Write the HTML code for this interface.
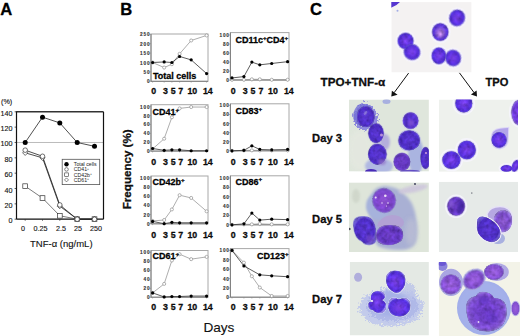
<!DOCTYPE html>
<html><head><meta charset="utf-8"><style>
html,body{margin:0;padding:0;background:#fff;}
svg{display:block;}
text[font-weight="bold"]:not([stroke]){stroke:#000;stroke-width:0.28px;stroke-linejoin:round;}
text.n{stroke:#111;stroke-width:0.12px;}
</style></head><body>
<svg width="520" height="336" viewBox="0 0 520 336" xmlns="http://www.w3.org/2000/svg" font-family='"Liberation Sans", sans-serif'>
<rect width="520" height="336" fill="#fff"/>
<text x="0.3" y="14.8" font-size="16.6" font-weight="bold" fill="#000">A</text>
<text x="120.3" y="14.8" font-size="16.6" font-weight="bold" fill="#000">B</text>
<text x="309.9" y="14.8" font-size="16.6" font-weight="bold" fill="#000">C</text>
<text class="n" x="1" y="104.3" font-size="7.2" fill="#111">(%)</text>
<text class="n" x="12.6" y="223.20" font-size="7.2" text-anchor="end" fill="#111">0</text>
<line x1="14.6" y1="219.20" x2="16.5" y2="219.20" stroke="#333" stroke-width="0.8"/>
<text class="n" x="12.6" y="207.86" font-size="7.2" text-anchor="end" fill="#111">20</text>
<line x1="14.6" y1="203.86" x2="16.5" y2="203.86" stroke="#333" stroke-width="0.8"/>
<text class="n" x="12.6" y="192.51" font-size="7.2" text-anchor="end" fill="#111">40</text>
<line x1="14.6" y1="188.51" x2="16.5" y2="188.51" stroke="#333" stroke-width="0.8"/>
<text class="n" x="12.6" y="177.17" font-size="7.2" text-anchor="end" fill="#111">60</text>
<line x1="14.6" y1="173.17" x2="16.5" y2="173.17" stroke="#333" stroke-width="0.8"/>
<text class="n" x="12.6" y="161.83" font-size="7.2" text-anchor="end" fill="#111">80</text>
<line x1="14.6" y1="157.83" x2="16.5" y2="157.83" stroke="#333" stroke-width="0.8"/>
<text class="n" x="12.6" y="146.49" font-size="7.2" text-anchor="end" fill="#111">100</text>
<line x1="14.6" y1="142.49" x2="16.5" y2="142.49" stroke="#333" stroke-width="0.8"/>
<text class="n" x="12.6" y="131.14" font-size="7.2" text-anchor="end" fill="#111">120</text>
<line x1="14.6" y1="127.14" x2="16.5" y2="127.14" stroke="#333" stroke-width="0.8"/>
<text class="n" x="12.6" y="115.80" font-size="7.2" text-anchor="end" fill="#111">140</text>
<line x1="14.6" y1="111.80" x2="16.5" y2="111.80" stroke="#333" stroke-width="0.8"/>
<line x1="16.5" y1="142.49" x2="103.5" y2="142.49" stroke="#aaa" stroke-width="0.8"/>
<line x1="16.5" y1="111.8" x2="103.5" y2="111.8" stroke="#333" stroke-width="1.6"/>
<line x1="103.5" y1="111.8" x2="103.5" y2="219.2" stroke="#111" stroke-width="1.2"/>
<line x1="16.5" y1="111.3" x2="16.5" y2="219.2" stroke="#111" stroke-width="1.2"/>
<line x1="16.5" y1="219.2" x2="103.5" y2="219.2" stroke="#111" stroke-width="1.3"/>
<line x1="25.2" y1="219.2" x2="25.2" y2="220.7" stroke="#333" stroke-width="0.8"/>
<line x1="42.5" y1="219.2" x2="42.5" y2="220.7" stroke="#333" stroke-width="0.8"/>
<line x1="59.8" y1="219.2" x2="59.8" y2="220.7" stroke="#333" stroke-width="0.8"/>
<line x1="77.2" y1="219.2" x2="77.2" y2="220.7" stroke="#333" stroke-width="0.8"/>
<line x1="94.5" y1="219.2" x2="94.5" y2="220.7" stroke="#333" stroke-width="0.8"/>
<text class="n" x="23.1" y="230.6" font-size="7.2" text-anchor="middle" fill="#111">0</text>
<text class="n" x="40.6" y="230.6" font-size="7.2" text-anchor="middle" fill="#111">0.25</text>
<text class="n" x="61" y="230.6" font-size="7.2" text-anchor="middle" fill="#111">2.5</text>
<text class="n" x="78" y="230.6" font-size="7.2" text-anchor="middle" fill="#111">25</text>
<text class="n" x="96.1" y="230.6" font-size="7.2" text-anchor="middle" fill="#111">250</text>
<text class="n" x="61.3" y="247.3" font-size="9.5" text-anchor="middle" fill="#111">TNF-α (ng/mL)</text>
<polyline points="25.2,186.21 42.5,198.10 59.8,215.75 77.2,219.20 94.5,219.20" fill="none" stroke="#444" stroke-width="0.7"/>
<polyline points="25.2,152.84 42.5,157.83 59.8,206.16 77.2,219.20 94.5,219.20" fill="none" stroke="#222" stroke-width="0.8"/>
<polyline points="25.2,150.16 42.5,156.29 59.8,204.93 77.2,219.20 94.5,219.20" fill="none" stroke="#222" stroke-width="0.8"/>
<polyline points="25.2,142.49 42.5,117.17 59.8,122.92 77.2,142.49 94.5,146.32" fill="none" stroke="#222" stroke-width="0.8"/>
<rect x="22.8" y="183.81" width="4.8" height="4.8" fill="#fff" stroke="#333" stroke-width="0.7"/>
<rect x="40.1" y="195.70" width="4.8" height="4.8" fill="#fff" stroke="#333" stroke-width="0.7"/>
<rect x="57.4" y="213.35" width="4.8" height="4.8" fill="#fff" stroke="#333" stroke-width="0.7"/>
<rect x="74.8" y="216.80" width="4.8" height="4.8" fill="#fff" stroke="#333" stroke-width="0.7"/>
<rect x="92.1" y="216.80" width="4.8" height="4.8" fill="#fff" stroke="#333" stroke-width="0.7"/>
<path d="M25.2,150.24 L27.8,152.84 L25.2,155.44 L22.599999999999998,152.84Z" fill="#fff" stroke="#333" stroke-width="0.7"/>
<path d="M42.5,155.23 L45.1,157.83 L42.5,160.43 L39.9,157.83Z" fill="#fff" stroke="#333" stroke-width="0.7"/>
<path d="M59.8,203.56 L62.4,206.16 L59.8,208.76 L57.199999999999996,206.16Z" fill="#fff" stroke="#333" stroke-width="0.7"/>
<path d="M77.2,216.60 L79.8,219.20 L77.2,221.80 L74.60000000000001,219.20Z" fill="#fff" stroke="#333" stroke-width="0.7"/>
<path d="M94.5,216.60 L97.1,219.20 L94.5,221.80 L91.9,219.20Z" fill="#fff" stroke="#333" stroke-width="0.7"/>
<circle cx="25.2" cy="150.16" r="2.3" fill="#fff" stroke="#333" stroke-width="0.7"/>
<circle cx="42.5" cy="156.29" r="2.3" fill="#fff" stroke="#333" stroke-width="0.7"/>
<circle cx="59.8" cy="204.93" r="2.3" fill="#fff" stroke="#333" stroke-width="0.7"/>
<circle cx="77.2" cy="219.20" r="2.3" fill="#fff" stroke="#333" stroke-width="0.7"/>
<circle cx="94.5" cy="219.20" r="2.3" fill="#fff" stroke="#333" stroke-width="0.7"/>
<circle cx="25.2" cy="142.49" r="2.5" fill="#000"/>
<circle cx="42.5" cy="117.17" r="2.5" fill="#000"/>
<circle cx="59.8" cy="122.92" r="2.5" fill="#000"/>
<circle cx="77.2" cy="142.49" r="2.5" fill="#000"/>
<circle cx="94.5" cy="146.32" r="2.5" fill="#000"/>
<rect x="62.2" y="159.3" width="37.5" height="25.3" fill="#fff" stroke="#555" stroke-width="0.8"/>
<circle cx="66.5" cy="164.2" r="2.2" fill="#000"/>
<circle cx="66.5" cy="169.4" r="1.8" fill="#fff" stroke="#333" stroke-width="0.6"/>
<rect x="64.7" y="172.89999999999998" width="3.6" height="3.6" fill="#fff" stroke="#333" stroke-width="0.6"/>
<path d="M66.5,177.9 l2,2 l-2,2 l-2,-2z" fill="#fff" stroke="#333" stroke-width="0.6"/>
<text x="73.8" y="166.0" font-size="5.2" fill="#222">Total cells</text>
<text x="73.8" y="171.20000000000002" font-size="5.2" fill="#222">CD41<tspan font-size="3.4" dy="-1.6">+</tspan></text>
<text x="73.8" y="176.5" font-size="5.2" fill="#222">CD42b<tspan font-size="3.4" dy="-1.6">+</tspan></text>
<text x="73.8" y="181.70000000000002" font-size="5.2" fill="#222">CD61<tspan font-size="3.4" dy="-1.6">+</tspan></text>
<text x="150.4" y="83.30" font-size="4.7" letter-spacing="0.85" text-anchor="end" fill="#333" stroke="#333" stroke-width="0.12" font-weight="bold">0</text>
<line x1="149.4" y1="81.30" x2="151.0" y2="81.30" stroke="#777" stroke-width="0.6"/>
<text x="150.4" y="73.90" font-size="4.7" letter-spacing="0.85" text-anchor="end" fill="#333" stroke="#333" stroke-width="0.12" font-weight="bold">50</text>
<line x1="149.4" y1="71.90" x2="151.0" y2="71.90" stroke="#777" stroke-width="0.6"/>
<text x="150.4" y="64.50" font-size="4.7" letter-spacing="0.85" text-anchor="end" fill="#333" stroke="#333" stroke-width="0.12" font-weight="bold">100</text>
<line x1="149.4" y1="62.50" x2="151.0" y2="62.50" stroke="#777" stroke-width="0.6"/>
<text x="150.4" y="55.10" font-size="4.7" letter-spacing="0.85" text-anchor="end" fill="#333" stroke="#333" stroke-width="0.12" font-weight="bold">150</text>
<line x1="149.4" y1="53.10" x2="151.0" y2="53.10" stroke="#777" stroke-width="0.6"/>
<text x="150.4" y="45.70" font-size="4.7" letter-spacing="0.85" text-anchor="end" fill="#333" stroke="#333" stroke-width="0.12" font-weight="bold">200</text>
<line x1="149.4" y1="43.70" x2="151.0" y2="43.70" stroke="#777" stroke-width="0.6"/>
<text x="150.4" y="36.30" font-size="4.7" letter-spacing="0.85" text-anchor="end" fill="#333" stroke="#333" stroke-width="0.12" font-weight="bold">250</text>
<line x1="149.4" y1="34.30" x2="151.0" y2="34.30" stroke="#777" stroke-width="0.6"/>
<line x1="152.60" y1="81.3" x2="152.60" y2="82.6" stroke="#888" stroke-width="0.6"/>
<line x1="164.17" y1="81.3" x2="164.17" y2="82.6" stroke="#888" stroke-width="0.6"/>
<line x1="171.89" y1="81.3" x2="171.89" y2="82.6" stroke="#888" stroke-width="0.6"/>
<line x1="179.60" y1="81.3" x2="179.60" y2="82.6" stroke="#888" stroke-width="0.6"/>
<line x1="191.17" y1="81.3" x2="191.17" y2="82.6" stroke="#888" stroke-width="0.6"/>
<line x1="206.60" y1="81.3" x2="206.60" y2="82.6" stroke="#888" stroke-width="0.6"/>
<rect x="151.0" y="34.0" width="57.0" height="47.3" fill="none" stroke="#a8a8a8" stroke-width="1.0"/>
<line x1="151.0" y1="34.0" x2="151.0" y2="81.3" stroke="#707070" stroke-width="0.8"/>
<line x1="151.0" y1="81.3" x2="208.0" y2="81.3" stroke="#707070" stroke-width="0.8"/>
<polyline points="152.60,62.50 164.17,67.58 171.89,64.19 179.60,53.85 191.17,40.50 206.60,35.43" fill="none" stroke="#999" stroke-width="0.8"/>
<polyline points="152.60,62.50 164.17,61.94 171.89,62.50 179.60,56.48 191.17,59.87 206.60,73.59" fill="none" stroke="#333" stroke-width="0.8"/>
<circle cx="152.60" cy="62.50" r="1.55" fill="#fff" stroke="#8a8a8a" stroke-width="0.65"/>
<circle cx="164.17" cy="67.58" r="1.55" fill="#fff" stroke="#8a8a8a" stroke-width="0.65"/>
<circle cx="171.89" cy="64.19" r="1.55" fill="#fff" stroke="#8a8a8a" stroke-width="0.65"/>
<circle cx="179.60" cy="53.85" r="1.55" fill="#fff" stroke="#8a8a8a" stroke-width="0.65"/>
<circle cx="191.17" cy="40.50" r="1.55" fill="#fff" stroke="#8a8a8a" stroke-width="0.65"/>
<circle cx="206.60" cy="35.43" r="1.55" fill="#fff" stroke="#8a8a8a" stroke-width="0.65"/>
<circle cx="152.60" cy="62.50" r="1.6" fill="#000"/>
<circle cx="164.17" cy="61.94" r="1.6" fill="#000"/>
<circle cx="171.89" cy="62.50" r="1.6" fill="#000"/>
<circle cx="179.60" cy="56.48" r="1.6" fill="#000"/>
<circle cx="191.17" cy="59.87" r="1.6" fill="#000"/>
<circle cx="206.60" cy="73.59" r="1.6" fill="#000"/>
<text x="153.0" y="78.8" font-size="9" font-weight="bold" fill="#000">Total cells</text>
<text x="153.80" y="94.10000000000001" font-size="8.8" font-weight="bold" text-anchor="middle" fill="#111">0</text>
<text x="165.37" y="94.10000000000001" font-size="8.8" font-weight="bold" text-anchor="middle" fill="#111">3</text>
<text x="173.09" y="94.10000000000001" font-size="8.8" font-weight="bold" text-anchor="middle" fill="#111">5</text>
<text x="180.80" y="94.10000000000001" font-size="8.8" font-weight="bold" text-anchor="middle" fill="#111">7</text>
<text x="192.37" y="94.10000000000001" font-size="8.8" font-weight="bold" text-anchor="middle" fill="#111">10</text>
<text x="207.80" y="94.10000000000001" font-size="8.8" font-weight="bold" text-anchor="middle" fill="#111">14</text>
<text x="229.8" y="82.20" font-size="4.7" letter-spacing="0.85" text-anchor="end" fill="#333" stroke="#333" stroke-width="0.12" font-weight="bold">0</text>
<line x1="228.8" y1="80.20" x2="230.4" y2="80.20" stroke="#777" stroke-width="0.6"/>
<text x="229.8" y="73.16" font-size="4.7" letter-spacing="0.85" text-anchor="end" fill="#333" stroke="#333" stroke-width="0.12" font-weight="bold">20</text>
<line x1="228.8" y1="71.16" x2="230.4" y2="71.16" stroke="#777" stroke-width="0.6"/>
<text x="229.8" y="64.12" font-size="4.7" letter-spacing="0.85" text-anchor="end" fill="#333" stroke="#333" stroke-width="0.12" font-weight="bold">40</text>
<line x1="228.8" y1="62.12" x2="230.4" y2="62.12" stroke="#777" stroke-width="0.6"/>
<text x="229.8" y="55.08" font-size="4.7" letter-spacing="0.85" text-anchor="end" fill="#333" stroke="#333" stroke-width="0.12" font-weight="bold">60</text>
<line x1="228.8" y1="53.08" x2="230.4" y2="53.08" stroke="#777" stroke-width="0.6"/>
<text x="229.8" y="46.04" font-size="4.7" letter-spacing="0.85" text-anchor="end" fill="#333" stroke="#333" stroke-width="0.12" font-weight="bold">80</text>
<line x1="228.8" y1="44.04" x2="230.4" y2="44.04" stroke="#777" stroke-width="0.6"/>
<text x="229.8" y="37.00" font-size="4.7" letter-spacing="0.85" text-anchor="end" fill="#333" stroke="#333" stroke-width="0.12" font-weight="bold">100</text>
<line x1="228.8" y1="35.00" x2="230.4" y2="35.00" stroke="#777" stroke-width="0.6"/>
<line x1="232.00" y1="80.0" x2="232.00" y2="81.3" stroke="#888" stroke-width="0.6"/>
<line x1="243.91" y1="80.0" x2="243.91" y2="81.3" stroke="#888" stroke-width="0.6"/>
<line x1="251.86" y1="80.0" x2="251.86" y2="81.3" stroke="#888" stroke-width="0.6"/>
<line x1="259.80" y1="80.0" x2="259.80" y2="81.3" stroke="#888" stroke-width="0.6"/>
<line x1="271.71" y1="80.0" x2="271.71" y2="81.3" stroke="#888" stroke-width="0.6"/>
<line x1="287.60" y1="80.0" x2="287.60" y2="81.3" stroke="#888" stroke-width="0.6"/>
<rect x="230.4" y="32.6" width="58.599999999999994" height="47.4" fill="none" stroke="#a8a8a8" stroke-width="1.0"/>
<line x1="230.4" y1="32.6" x2="230.4" y2="80.0" stroke="#707070" stroke-width="0.8"/>
<line x1="230.4" y1="80.0" x2="289.0" y2="80.0" stroke="#707070" stroke-width="0.8"/>
<polyline points="232.00,79.75 243.91,79.75 251.86,79.30 259.80,79.30 271.71,79.75 287.60,79.75" fill="none" stroke="#999" stroke-width="0.8"/>
<polyline points="232.00,77.94 243.91,76.58 251.86,62.12 259.80,64.83 271.71,63.48 287.60,61.67" fill="none" stroke="#333" stroke-width="0.8"/>
<circle cx="232.00" cy="79.75" r="1.55" fill="#fff" stroke="#8a8a8a" stroke-width="0.65"/>
<circle cx="243.91" cy="79.75" r="1.55" fill="#fff" stroke="#8a8a8a" stroke-width="0.65"/>
<circle cx="251.86" cy="79.30" r="1.55" fill="#fff" stroke="#8a8a8a" stroke-width="0.65"/>
<circle cx="259.80" cy="79.30" r="1.55" fill="#fff" stroke="#8a8a8a" stroke-width="0.65"/>
<circle cx="271.71" cy="79.75" r="1.55" fill="#fff" stroke="#8a8a8a" stroke-width="0.65"/>
<circle cx="287.60" cy="79.75" r="1.55" fill="#fff" stroke="#8a8a8a" stroke-width="0.65"/>
<circle cx="232.00" cy="77.94" r="1.6" fill="#000"/>
<circle cx="243.91" cy="76.58" r="1.6" fill="#000"/>
<circle cx="251.86" cy="62.12" r="1.6" fill="#000"/>
<circle cx="259.80" cy="64.83" r="1.6" fill="#000"/>
<circle cx="271.71" cy="63.48" r="1.6" fill="#000"/>
<circle cx="287.60" cy="61.67" r="1.6" fill="#000"/>
<text x="235.4" y="42.8" font-size="9" font-weight="bold" fill="#000">CD11c<tspan font-size="6.2" dy="-3.2">+</tspan><tspan dy="3.2">CD4</tspan><tspan font-size="6.2" dy="-3.2">+</tspan></text>
<text x="233.20" y="94.10000000000001" font-size="8.8" font-weight="bold" text-anchor="middle" fill="#111">0</text>
<text x="245.11" y="94.10000000000001" font-size="8.8" font-weight="bold" text-anchor="middle" fill="#111">3</text>
<text x="253.06" y="94.10000000000001" font-size="8.8" font-weight="bold" text-anchor="middle" fill="#111">5</text>
<text x="261.00" y="94.10000000000001" font-size="8.8" font-weight="bold" text-anchor="middle" fill="#111">7</text>
<text x="272.91" y="94.10000000000001" font-size="8.8" font-weight="bold" text-anchor="middle" fill="#111">10</text>
<text x="288.80" y="94.10000000000001" font-size="8.8" font-weight="bold" text-anchor="middle" fill="#111">14</text>
<text x="150.4" y="153.20" font-size="4.7" letter-spacing="0.85" text-anchor="end" fill="#333" stroke="#333" stroke-width="0.12" font-weight="bold">0</text>
<line x1="149.4" y1="151.20" x2="151.0" y2="151.20" stroke="#777" stroke-width="0.6"/>
<text x="150.4" y="144.28" font-size="4.7" letter-spacing="0.85" text-anchor="end" fill="#333" stroke="#333" stroke-width="0.12" font-weight="bold">20</text>
<line x1="149.4" y1="142.28" x2="151.0" y2="142.28" stroke="#777" stroke-width="0.6"/>
<text x="150.4" y="135.36" font-size="4.7" letter-spacing="0.85" text-anchor="end" fill="#333" stroke="#333" stroke-width="0.12" font-weight="bold">40</text>
<line x1="149.4" y1="133.36" x2="151.0" y2="133.36" stroke="#777" stroke-width="0.6"/>
<text x="150.4" y="126.44" font-size="4.7" letter-spacing="0.85" text-anchor="end" fill="#333" stroke="#333" stroke-width="0.12" font-weight="bold">60</text>
<line x1="149.4" y1="124.44" x2="151.0" y2="124.44" stroke="#777" stroke-width="0.6"/>
<text x="150.4" y="117.52" font-size="4.7" letter-spacing="0.85" text-anchor="end" fill="#333" stroke="#333" stroke-width="0.12" font-weight="bold">80</text>
<line x1="149.4" y1="115.52" x2="151.0" y2="115.52" stroke="#777" stroke-width="0.6"/>
<text x="150.4" y="108.60" font-size="4.7" letter-spacing="0.85" text-anchor="end" fill="#333" stroke="#333" stroke-width="0.12" font-weight="bold">100</text>
<line x1="149.4" y1="106.60" x2="151.0" y2="106.60" stroke="#777" stroke-width="0.6"/>
<line x1="152.60" y1="151.1" x2="152.60" y2="152.4" stroke="#888" stroke-width="0.6"/>
<line x1="164.17" y1="151.1" x2="164.17" y2="152.4" stroke="#888" stroke-width="0.6"/>
<line x1="171.89" y1="151.1" x2="171.89" y2="152.4" stroke="#888" stroke-width="0.6"/>
<line x1="179.60" y1="151.1" x2="179.60" y2="152.4" stroke="#888" stroke-width="0.6"/>
<line x1="191.17" y1="151.1" x2="191.17" y2="152.4" stroke="#888" stroke-width="0.6"/>
<line x1="206.60" y1="151.1" x2="206.60" y2="152.4" stroke="#888" stroke-width="0.6"/>
<rect x="151.0" y="104.7" width="57.0" height="46.39999999999999" fill="none" stroke="#a8a8a8" stroke-width="1.0"/>
<line x1="151.0" y1="104.7" x2="151.0" y2="151.1" stroke="#707070" stroke-width="0.8"/>
<line x1="151.0" y1="151.1" x2="208.0" y2="151.1" stroke="#707070" stroke-width="0.8"/>
<polyline points="152.60,148.97 164.17,138.71 171.89,117.30 179.60,108.38 191.17,107.05 206.60,107.05" fill="none" stroke="#999" stroke-width="0.8"/>
<polyline points="152.60,148.52 164.17,150.31 171.89,149.86 179.60,149.86 191.17,150.75 206.60,150.75" fill="none" stroke="#333" stroke-width="0.8"/>
<circle cx="152.60" cy="148.97" r="1.55" fill="#fff" stroke="#8a8a8a" stroke-width="0.65"/>
<circle cx="164.17" cy="138.71" r="1.55" fill="#fff" stroke="#8a8a8a" stroke-width="0.65"/>
<circle cx="171.89" cy="117.30" r="1.55" fill="#fff" stroke="#8a8a8a" stroke-width="0.65"/>
<circle cx="179.60" cy="108.38" r="1.55" fill="#fff" stroke="#8a8a8a" stroke-width="0.65"/>
<circle cx="191.17" cy="107.05" r="1.55" fill="#fff" stroke="#8a8a8a" stroke-width="0.65"/>
<circle cx="206.60" cy="107.05" r="1.55" fill="#fff" stroke="#8a8a8a" stroke-width="0.65"/>
<circle cx="152.60" cy="148.52" r="1.6" fill="#000"/>
<circle cx="164.17" cy="150.31" r="1.6" fill="#000"/>
<circle cx="171.89" cy="149.86" r="1.6" fill="#000"/>
<circle cx="179.60" cy="149.86" r="1.6" fill="#000"/>
<circle cx="191.17" cy="150.75" r="1.6" fill="#000"/>
<circle cx="206.60" cy="150.75" r="1.6" fill="#000"/>
<text x="152.6" y="115.0" font-size="9" font-weight="bold" fill="#000">CD41<tspan font-size="6.2" dy="-3.2">+</tspan></text>
<text x="153.80" y="164.5" font-size="8.8" font-weight="bold" text-anchor="middle" fill="#111">0</text>
<text x="165.37" y="164.5" font-size="8.8" font-weight="bold" text-anchor="middle" fill="#111">3</text>
<text x="173.09" y="164.5" font-size="8.8" font-weight="bold" text-anchor="middle" fill="#111">5</text>
<text x="180.80" y="164.5" font-size="8.8" font-weight="bold" text-anchor="middle" fill="#111">7</text>
<text x="192.37" y="164.5" font-size="8.8" font-weight="bold" text-anchor="middle" fill="#111">10</text>
<text x="207.80" y="164.5" font-size="8.8" font-weight="bold" text-anchor="middle" fill="#111">14</text>
<text x="229.8" y="152.80" font-size="4.7" letter-spacing="0.85" text-anchor="end" fill="#333" stroke="#333" stroke-width="0.12" font-weight="bold">0</text>
<line x1="228.8" y1="150.80" x2="230.4" y2="150.80" stroke="#777" stroke-width="0.6"/>
<text x="229.8" y="143.72" font-size="4.7" letter-spacing="0.85" text-anchor="end" fill="#333" stroke="#333" stroke-width="0.12" font-weight="bold">20</text>
<line x1="228.8" y1="141.72" x2="230.4" y2="141.72" stroke="#777" stroke-width="0.6"/>
<text x="229.8" y="134.64" font-size="4.7" letter-spacing="0.85" text-anchor="end" fill="#333" stroke="#333" stroke-width="0.12" font-weight="bold">40</text>
<line x1="228.8" y1="132.64" x2="230.4" y2="132.64" stroke="#777" stroke-width="0.6"/>
<text x="229.8" y="125.56" font-size="4.7" letter-spacing="0.85" text-anchor="end" fill="#333" stroke="#333" stroke-width="0.12" font-weight="bold">60</text>
<line x1="228.8" y1="123.56" x2="230.4" y2="123.56" stroke="#777" stroke-width="0.6"/>
<text x="229.8" y="116.48" font-size="4.7" letter-spacing="0.85" text-anchor="end" fill="#333" stroke="#333" stroke-width="0.12" font-weight="bold">80</text>
<line x1="228.8" y1="114.48" x2="230.4" y2="114.48" stroke="#777" stroke-width="0.6"/>
<text x="229.8" y="107.40" font-size="4.7" letter-spacing="0.85" text-anchor="end" fill="#333" stroke="#333" stroke-width="0.12" font-weight="bold">100</text>
<line x1="228.8" y1="105.40" x2="230.4" y2="105.40" stroke="#777" stroke-width="0.6"/>
<line x1="232.00" y1="150.8" x2="232.00" y2="152.10000000000002" stroke="#888" stroke-width="0.6"/>
<line x1="243.91" y1="150.8" x2="243.91" y2="152.10000000000002" stroke="#888" stroke-width="0.6"/>
<line x1="251.86" y1="150.8" x2="251.86" y2="152.10000000000002" stroke="#888" stroke-width="0.6"/>
<line x1="259.80" y1="150.8" x2="259.80" y2="152.10000000000002" stroke="#888" stroke-width="0.6"/>
<line x1="271.71" y1="150.8" x2="271.71" y2="152.10000000000002" stroke="#888" stroke-width="0.6"/>
<line x1="287.60" y1="150.8" x2="287.60" y2="152.10000000000002" stroke="#888" stroke-width="0.6"/>
<rect x="230.4" y="103.8" width="58.599999999999994" height="47.000000000000014" fill="none" stroke="#a8a8a8" stroke-width="1.0"/>
<line x1="230.4" y1="103.8" x2="230.4" y2="150.8" stroke="#707070" stroke-width="0.8"/>
<line x1="230.4" y1="150.8" x2="289.0" y2="150.8" stroke="#707070" stroke-width="0.8"/>
<polyline points="232.00,150.80 243.91,150.35 251.86,150.35 259.80,150.35 271.71,150.35 287.60,150.35" fill="none" stroke="#999" stroke-width="0.8"/>
<polyline points="232.00,150.80 243.91,150.35 251.86,145.81 259.80,149.44 271.71,149.89 287.60,149.44" fill="none" stroke="#333" stroke-width="0.8"/>
<circle cx="232.00" cy="150.80" r="1.55" fill="#fff" stroke="#8a8a8a" stroke-width="0.65"/>
<circle cx="243.91" cy="150.35" r="1.55" fill="#fff" stroke="#8a8a8a" stroke-width="0.65"/>
<circle cx="251.86" cy="150.35" r="1.55" fill="#fff" stroke="#8a8a8a" stroke-width="0.65"/>
<circle cx="259.80" cy="150.35" r="1.55" fill="#fff" stroke="#8a8a8a" stroke-width="0.65"/>
<circle cx="271.71" cy="150.35" r="1.55" fill="#fff" stroke="#8a8a8a" stroke-width="0.65"/>
<circle cx="287.60" cy="150.35" r="1.55" fill="#fff" stroke="#8a8a8a" stroke-width="0.65"/>
<circle cx="232.00" cy="150.80" r="1.6" fill="#000"/>
<circle cx="243.91" cy="150.35" r="1.6" fill="#000"/>
<circle cx="251.86" cy="145.81" r="1.6" fill="#000"/>
<circle cx="259.80" cy="149.44" r="1.6" fill="#000"/>
<circle cx="271.71" cy="149.89" r="1.6" fill="#000"/>
<circle cx="287.60" cy="149.44" r="1.6" fill="#000"/>
<text x="235.4" y="114.0" font-size="9" font-weight="bold" fill="#000">CD83<tspan font-size="6.2" dy="-3.2">+</tspan></text>
<text x="233.20" y="164.5" font-size="8.8" font-weight="bold" text-anchor="middle" fill="#111">0</text>
<text x="245.11" y="164.5" font-size="8.8" font-weight="bold" text-anchor="middle" fill="#111">3</text>
<text x="253.06" y="164.5" font-size="8.8" font-weight="bold" text-anchor="middle" fill="#111">5</text>
<text x="261.00" y="164.5" font-size="8.8" font-weight="bold" text-anchor="middle" fill="#111">7</text>
<text x="272.91" y="164.5" font-size="8.8" font-weight="bold" text-anchor="middle" fill="#111">10</text>
<text x="288.80" y="164.5" font-size="8.8" font-weight="bold" text-anchor="middle" fill="#111">14</text>
<text x="150.4" y="225.70" font-size="4.7" letter-spacing="0.85" text-anchor="end" fill="#333" stroke="#333" stroke-width="0.12" font-weight="bold">0</text>
<line x1="149.4" y1="223.70" x2="151.0" y2="223.70" stroke="#777" stroke-width="0.6"/>
<text x="150.4" y="216.50" font-size="4.7" letter-spacing="0.85" text-anchor="end" fill="#333" stroke="#333" stroke-width="0.12" font-weight="bold">20</text>
<line x1="149.4" y1="214.50" x2="151.0" y2="214.50" stroke="#777" stroke-width="0.6"/>
<text x="150.4" y="207.30" font-size="4.7" letter-spacing="0.85" text-anchor="end" fill="#333" stroke="#333" stroke-width="0.12" font-weight="bold">40</text>
<line x1="149.4" y1="205.30" x2="151.0" y2="205.30" stroke="#777" stroke-width="0.6"/>
<text x="150.4" y="198.10" font-size="4.7" letter-spacing="0.85" text-anchor="end" fill="#333" stroke="#333" stroke-width="0.12" font-weight="bold">60</text>
<line x1="149.4" y1="196.10" x2="151.0" y2="196.10" stroke="#777" stroke-width="0.6"/>
<text x="150.4" y="188.90" font-size="4.7" letter-spacing="0.85" text-anchor="end" fill="#333" stroke="#333" stroke-width="0.12" font-weight="bold">80</text>
<line x1="149.4" y1="186.90" x2="151.0" y2="186.90" stroke="#777" stroke-width="0.6"/>
<text x="150.4" y="179.70" font-size="4.7" letter-spacing="0.85" text-anchor="end" fill="#333" stroke="#333" stroke-width="0.12" font-weight="bold">100</text>
<line x1="149.4" y1="177.70" x2="151.0" y2="177.70" stroke="#777" stroke-width="0.6"/>
<line x1="152.60" y1="223.8" x2="152.60" y2="225.10000000000002" stroke="#888" stroke-width="0.6"/>
<line x1="164.17" y1="223.8" x2="164.17" y2="225.10000000000002" stroke="#888" stroke-width="0.6"/>
<line x1="171.89" y1="223.8" x2="171.89" y2="225.10000000000002" stroke="#888" stroke-width="0.6"/>
<line x1="179.60" y1="223.8" x2="179.60" y2="225.10000000000002" stroke="#888" stroke-width="0.6"/>
<line x1="191.17" y1="223.8" x2="191.17" y2="225.10000000000002" stroke="#888" stroke-width="0.6"/>
<line x1="206.60" y1="223.8" x2="206.60" y2="225.10000000000002" stroke="#888" stroke-width="0.6"/>
<rect x="151.0" y="176.0" width="57.0" height="47.80000000000001" fill="none" stroke="#a8a8a8" stroke-width="1.0"/>
<line x1="151.0" y1="176.0" x2="151.0" y2="223.8" stroke="#707070" stroke-width="0.8"/>
<line x1="151.0" y1="223.8" x2="208.0" y2="223.8" stroke="#707070" stroke-width="0.8"/>
<polyline points="152.60,220.94 164.17,220.02 171.89,209.44 179.60,195.18 191.17,197.94 206.60,211.28" fill="none" stroke="#999" stroke-width="0.8"/>
<polyline points="152.60,221.40 164.17,223.70 171.89,222.32 179.60,222.78 191.17,222.78 206.60,222.78" fill="none" stroke="#333" stroke-width="0.8"/>
<circle cx="152.60" cy="220.94" r="1.55" fill="#fff" stroke="#8a8a8a" stroke-width="0.65"/>
<circle cx="164.17" cy="220.02" r="1.55" fill="#fff" stroke="#8a8a8a" stroke-width="0.65"/>
<circle cx="171.89" cy="209.44" r="1.55" fill="#fff" stroke="#8a8a8a" stroke-width="0.65"/>
<circle cx="179.60" cy="195.18" r="1.55" fill="#fff" stroke="#8a8a8a" stroke-width="0.65"/>
<circle cx="191.17" cy="197.94" r="1.55" fill="#fff" stroke="#8a8a8a" stroke-width="0.65"/>
<circle cx="206.60" cy="211.28" r="1.55" fill="#fff" stroke="#8a8a8a" stroke-width="0.65"/>
<circle cx="152.60" cy="221.40" r="1.6" fill="#000"/>
<circle cx="164.17" cy="223.70" r="1.6" fill="#000"/>
<circle cx="171.89" cy="222.32" r="1.6" fill="#000"/>
<circle cx="179.60" cy="222.78" r="1.6" fill="#000"/>
<circle cx="191.17" cy="222.78" r="1.6" fill="#000"/>
<circle cx="206.60" cy="222.78" r="1.6" fill="#000"/>
<text x="152.6" y="185.2" font-size="9" font-weight="bold" fill="#000">CD42b<tspan font-size="6.2" dy="-3.2">+</tspan></text>
<text x="153.80" y="237.7" font-size="8.8" font-weight="bold" text-anchor="middle" fill="#111">0</text>
<text x="165.37" y="237.7" font-size="8.8" font-weight="bold" text-anchor="middle" fill="#111">3</text>
<text x="173.09" y="237.7" font-size="8.8" font-weight="bold" text-anchor="middle" fill="#111">5</text>
<text x="180.80" y="237.7" font-size="8.8" font-weight="bold" text-anchor="middle" fill="#111">7</text>
<text x="192.37" y="237.7" font-size="8.8" font-weight="bold" text-anchor="middle" fill="#111">10</text>
<text x="207.80" y="237.7" font-size="8.8" font-weight="bold" text-anchor="middle" fill="#111">14</text>
<text x="229.8" y="226.80" font-size="4.7" letter-spacing="0.85" text-anchor="end" fill="#333" stroke="#333" stroke-width="0.12" font-weight="bold">0</text>
<line x1="228.8" y1="224.80" x2="230.4" y2="224.80" stroke="#777" stroke-width="0.6"/>
<text x="229.8" y="217.44" font-size="4.7" letter-spacing="0.85" text-anchor="end" fill="#333" stroke="#333" stroke-width="0.12" font-weight="bold">20</text>
<line x1="228.8" y1="215.44" x2="230.4" y2="215.44" stroke="#777" stroke-width="0.6"/>
<text x="229.8" y="208.08" font-size="4.7" letter-spacing="0.85" text-anchor="end" fill="#333" stroke="#333" stroke-width="0.12" font-weight="bold">40</text>
<line x1="228.8" y1="206.08" x2="230.4" y2="206.08" stroke="#777" stroke-width="0.6"/>
<text x="229.8" y="198.72" font-size="4.7" letter-spacing="0.85" text-anchor="end" fill="#333" stroke="#333" stroke-width="0.12" font-weight="bold">60</text>
<line x1="228.8" y1="196.72" x2="230.4" y2="196.72" stroke="#777" stroke-width="0.6"/>
<text x="229.8" y="189.36" font-size="4.7" letter-spacing="0.85" text-anchor="end" fill="#333" stroke="#333" stroke-width="0.12" font-weight="bold">80</text>
<line x1="228.8" y1="187.36" x2="230.4" y2="187.36" stroke="#777" stroke-width="0.6"/>
<text x="229.8" y="180.00" font-size="4.7" letter-spacing="0.85" text-anchor="end" fill="#333" stroke="#333" stroke-width="0.12" font-weight="bold">100</text>
<line x1="228.8" y1="178.00" x2="230.4" y2="178.00" stroke="#777" stroke-width="0.6"/>
<line x1="232.00" y1="224.8" x2="232.00" y2="226.10000000000002" stroke="#888" stroke-width="0.6"/>
<line x1="243.91" y1="224.8" x2="243.91" y2="226.10000000000002" stroke="#888" stroke-width="0.6"/>
<line x1="251.86" y1="224.8" x2="251.86" y2="226.10000000000002" stroke="#888" stroke-width="0.6"/>
<line x1="259.80" y1="224.8" x2="259.80" y2="226.10000000000002" stroke="#888" stroke-width="0.6"/>
<line x1="271.71" y1="224.8" x2="271.71" y2="226.10000000000002" stroke="#888" stroke-width="0.6"/>
<line x1="287.60" y1="224.8" x2="287.60" y2="226.10000000000002" stroke="#888" stroke-width="0.6"/>
<rect x="230.4" y="175.8" width="58.599999999999994" height="49.0" fill="none" stroke="#a8a8a8" stroke-width="1.0"/>
<line x1="230.4" y1="175.8" x2="230.4" y2="224.8" stroke="#707070" stroke-width="0.8"/>
<line x1="230.4" y1="224.8" x2="289.0" y2="224.8" stroke="#707070" stroke-width="0.8"/>
<polyline points="232.00,224.80 243.91,224.33 251.86,224.33 259.80,223.86 271.71,224.33 287.60,224.33" fill="none" stroke="#999" stroke-width="0.8"/>
<polyline points="232.00,224.80 243.91,223.86 251.86,213.10 259.80,220.12 271.71,219.18 287.60,219.65" fill="none" stroke="#333" stroke-width="0.8"/>
<circle cx="232.00" cy="224.80" r="1.55" fill="#fff" stroke="#8a8a8a" stroke-width="0.65"/>
<circle cx="243.91" cy="224.33" r="1.55" fill="#fff" stroke="#8a8a8a" stroke-width="0.65"/>
<circle cx="251.86" cy="224.33" r="1.55" fill="#fff" stroke="#8a8a8a" stroke-width="0.65"/>
<circle cx="259.80" cy="223.86" r="1.55" fill="#fff" stroke="#8a8a8a" stroke-width="0.65"/>
<circle cx="271.71" cy="224.33" r="1.55" fill="#fff" stroke="#8a8a8a" stroke-width="0.65"/>
<circle cx="287.60" cy="224.33" r="1.55" fill="#fff" stroke="#8a8a8a" stroke-width="0.65"/>
<circle cx="232.00" cy="224.80" r="1.6" fill="#000"/>
<circle cx="243.91" cy="223.86" r="1.6" fill="#000"/>
<circle cx="251.86" cy="213.10" r="1.6" fill="#000"/>
<circle cx="259.80" cy="220.12" r="1.6" fill="#000"/>
<circle cx="271.71" cy="219.18" r="1.6" fill="#000"/>
<circle cx="287.60" cy="219.65" r="1.6" fill="#000"/>
<text x="235.4" y="184.5" font-size="9" font-weight="bold" fill="#000">CD86<tspan font-size="6.2" dy="-3.2">+</tspan></text>
<text x="233.20" y="237.7" font-size="8.8" font-weight="bold" text-anchor="middle" fill="#111">0</text>
<text x="245.11" y="237.7" font-size="8.8" font-weight="bold" text-anchor="middle" fill="#111">3</text>
<text x="253.06" y="237.7" font-size="8.8" font-weight="bold" text-anchor="middle" fill="#111">5</text>
<text x="261.00" y="237.7" font-size="8.8" font-weight="bold" text-anchor="middle" fill="#111">7</text>
<text x="272.91" y="237.7" font-size="8.8" font-weight="bold" text-anchor="middle" fill="#111">10</text>
<text x="288.80" y="237.7" font-size="8.8" font-weight="bold" text-anchor="middle" fill="#111">14</text>
<text x="150.4" y="299.40" font-size="4.7" letter-spacing="0.85" text-anchor="end" fill="#333" stroke="#333" stroke-width="0.12" font-weight="bold">0</text>
<line x1="149.4" y1="297.40" x2="151.0" y2="297.40" stroke="#777" stroke-width="0.6"/>
<text x="150.4" y="290.40" font-size="4.7" letter-spacing="0.85" text-anchor="end" fill="#333" stroke="#333" stroke-width="0.12" font-weight="bold">20</text>
<line x1="149.4" y1="288.40" x2="151.0" y2="288.40" stroke="#777" stroke-width="0.6"/>
<text x="150.4" y="281.40" font-size="4.7" letter-spacing="0.85" text-anchor="end" fill="#333" stroke="#333" stroke-width="0.12" font-weight="bold">40</text>
<line x1="149.4" y1="279.40" x2="151.0" y2="279.40" stroke="#777" stroke-width="0.6"/>
<text x="150.4" y="272.40" font-size="4.7" letter-spacing="0.85" text-anchor="end" fill="#333" stroke="#333" stroke-width="0.12" font-weight="bold">60</text>
<line x1="149.4" y1="270.40" x2="151.0" y2="270.40" stroke="#777" stroke-width="0.6"/>
<text x="150.4" y="263.40" font-size="4.7" letter-spacing="0.85" text-anchor="end" fill="#333" stroke="#333" stroke-width="0.12" font-weight="bold">80</text>
<line x1="149.4" y1="261.40" x2="151.0" y2="261.40" stroke="#777" stroke-width="0.6"/>
<text x="150.4" y="254.40" font-size="4.7" letter-spacing="0.85" text-anchor="end" fill="#333" stroke="#333" stroke-width="0.12" font-weight="bold">100</text>
<line x1="149.4" y1="252.40" x2="151.0" y2="252.40" stroke="#777" stroke-width="0.6"/>
<line x1="152.60" y1="297.2" x2="152.60" y2="298.5" stroke="#888" stroke-width="0.6"/>
<line x1="164.17" y1="297.2" x2="164.17" y2="298.5" stroke="#888" stroke-width="0.6"/>
<line x1="171.89" y1="297.2" x2="171.89" y2="298.5" stroke="#888" stroke-width="0.6"/>
<line x1="179.60" y1="297.2" x2="179.60" y2="298.5" stroke="#888" stroke-width="0.6"/>
<line x1="191.17" y1="297.2" x2="191.17" y2="298.5" stroke="#888" stroke-width="0.6"/>
<line x1="206.60" y1="297.2" x2="206.60" y2="298.5" stroke="#888" stroke-width="0.6"/>
<rect x="151.0" y="250.5" width="57.0" height="46.69999999999999" fill="none" stroke="#a8a8a8" stroke-width="1.0"/>
<line x1="151.0" y1="250.5" x2="151.0" y2="297.2" stroke="#707070" stroke-width="0.8"/>
<line x1="151.0" y1="297.2" x2="208.0" y2="297.2" stroke="#707070" stroke-width="0.8"/>
<polyline points="152.60,292.90 164.17,283.90 171.89,260.50 179.60,254.20 191.17,259.15 206.60,256.90" fill="none" stroke="#999" stroke-width="0.8"/>
<polyline points="152.60,292.90 164.17,296.95 171.89,296.50 179.60,296.50 191.17,296.05 206.60,296.05" fill="none" stroke="#333" stroke-width="0.8"/>
<circle cx="152.60" cy="292.90" r="1.55" fill="#fff" stroke="#8a8a8a" stroke-width="0.65"/>
<circle cx="164.17" cy="283.90" r="1.55" fill="#fff" stroke="#8a8a8a" stroke-width="0.65"/>
<circle cx="171.89" cy="260.50" r="1.55" fill="#fff" stroke="#8a8a8a" stroke-width="0.65"/>
<circle cx="179.60" cy="254.20" r="1.55" fill="#fff" stroke="#8a8a8a" stroke-width="0.65"/>
<circle cx="191.17" cy="259.15" r="1.55" fill="#fff" stroke="#8a8a8a" stroke-width="0.65"/>
<circle cx="206.60" cy="256.90" r="1.55" fill="#fff" stroke="#8a8a8a" stroke-width="0.65"/>
<circle cx="152.60" cy="292.90" r="1.6" fill="#000"/>
<circle cx="164.17" cy="296.95" r="1.6" fill="#000"/>
<circle cx="171.89" cy="296.50" r="1.6" fill="#000"/>
<circle cx="179.60" cy="296.50" r="1.6" fill="#000"/>
<circle cx="191.17" cy="296.05" r="1.6" fill="#000"/>
<circle cx="206.60" cy="296.05" r="1.6" fill="#000"/>
<text x="152.6" y="258.8" font-size="9" font-weight="bold" fill="#000">CD61<tspan font-size="6.2" dy="-3.2">+</tspan></text>
<text x="153.80" y="310.4" font-size="8.8" font-weight="bold" text-anchor="middle" fill="#111">0</text>
<text x="165.37" y="310.4" font-size="8.8" font-weight="bold" text-anchor="middle" fill="#111">3</text>
<text x="173.09" y="310.4" font-size="8.8" font-weight="bold" text-anchor="middle" fill="#111">5</text>
<text x="180.80" y="310.4" font-size="8.8" font-weight="bold" text-anchor="middle" fill="#111">7</text>
<text x="192.37" y="310.4" font-size="8.8" font-weight="bold" text-anchor="middle" fill="#111">10</text>
<text x="207.80" y="310.4" font-size="8.8" font-weight="bold" text-anchor="middle" fill="#111">14</text>
<text x="229.8" y="299.40" font-size="4.7" letter-spacing="0.85" text-anchor="end" fill="#333" stroke="#333" stroke-width="0.12" font-weight="bold">0</text>
<line x1="228.8" y1="297.40" x2="230.4" y2="297.40" stroke="#777" stroke-width="0.6"/>
<text x="229.8" y="290.00" font-size="4.7" letter-spacing="0.85" text-anchor="end" fill="#333" stroke="#333" stroke-width="0.12" font-weight="bold">20</text>
<line x1="228.8" y1="288.00" x2="230.4" y2="288.00" stroke="#777" stroke-width="0.6"/>
<text x="229.8" y="280.60" font-size="4.7" letter-spacing="0.85" text-anchor="end" fill="#333" stroke="#333" stroke-width="0.12" font-weight="bold">40</text>
<line x1="228.8" y1="278.60" x2="230.4" y2="278.60" stroke="#777" stroke-width="0.6"/>
<text x="229.8" y="271.20" font-size="4.7" letter-spacing="0.85" text-anchor="end" fill="#333" stroke="#333" stroke-width="0.12" font-weight="bold">60</text>
<line x1="228.8" y1="269.20" x2="230.4" y2="269.20" stroke="#777" stroke-width="0.6"/>
<text x="229.8" y="261.80" font-size="4.7" letter-spacing="0.85" text-anchor="end" fill="#333" stroke="#333" stroke-width="0.12" font-weight="bold">80</text>
<line x1="228.8" y1="259.80" x2="230.4" y2="259.80" stroke="#777" stroke-width="0.6"/>
<text x="229.8" y="252.40" font-size="4.7" letter-spacing="0.85" text-anchor="end" fill="#333" stroke="#333" stroke-width="0.12" font-weight="bold">100</text>
<line x1="228.8" y1="250.40" x2="230.4" y2="250.40" stroke="#777" stroke-width="0.6"/>
<line x1="232.00" y1="297.2" x2="232.00" y2="298.5" stroke="#888" stroke-width="0.6"/>
<line x1="243.91" y1="297.2" x2="243.91" y2="298.5" stroke="#888" stroke-width="0.6"/>
<line x1="251.86" y1="297.2" x2="251.86" y2="298.5" stroke="#888" stroke-width="0.6"/>
<line x1="259.80" y1="297.2" x2="259.80" y2="298.5" stroke="#888" stroke-width="0.6"/>
<line x1="271.71" y1="297.2" x2="271.71" y2="298.5" stroke="#888" stroke-width="0.6"/>
<line x1="287.60" y1="297.2" x2="287.60" y2="298.5" stroke="#888" stroke-width="0.6"/>
<rect x="230.4" y="248.6" width="58.599999999999994" height="48.599999999999994" fill="none" stroke="#a8a8a8" stroke-width="1.0"/>
<line x1="230.4" y1="248.6" x2="230.4" y2="297.2" stroke="#707070" stroke-width="0.8"/>
<line x1="230.4" y1="297.2" x2="289.0" y2="297.2" stroke="#707070" stroke-width="0.8"/>
<polyline points="232.00,250.40 243.91,262.62 251.86,276.25 259.80,287.53 271.71,295.99 287.60,295.99" fill="none" stroke="#999" stroke-width="0.8"/>
<polyline points="232.00,250.40 243.91,265.91 259.80,274.84 271.71,275.78 287.60,276.72" fill="none" stroke="#333" stroke-width="0.8"/>
<circle cx="232.00" cy="250.40" r="1.55" fill="#fff" stroke="#8a8a8a" stroke-width="0.65"/>
<circle cx="243.91" cy="262.62" r="1.55" fill="#fff" stroke="#8a8a8a" stroke-width="0.65"/>
<circle cx="251.86" cy="276.25" r="1.55" fill="#fff" stroke="#8a8a8a" stroke-width="0.65"/>
<circle cx="259.80" cy="287.53" r="1.55" fill="#fff" stroke="#8a8a8a" stroke-width="0.65"/>
<circle cx="271.71" cy="295.99" r="1.55" fill="#fff" stroke="#8a8a8a" stroke-width="0.65"/>
<circle cx="287.60" cy="295.99" r="1.55" fill="#fff" stroke="#8a8a8a" stroke-width="0.65"/>
<circle cx="232.00" cy="250.40" r="1.6" fill="#000"/>
<circle cx="243.91" cy="265.91" r="1.6" fill="#000"/>
<circle cx="259.80" cy="274.84" r="1.6" fill="#000"/>
<circle cx="271.71" cy="275.78" r="1.6" fill="#000"/>
<circle cx="287.60" cy="276.72" r="1.6" fill="#000"/>
<text x="288.6" y="258.9" font-size="9" font-weight="bold" fill="#000" text-anchor="end">CD123<tspan font-size="6.2" dy="-3.2">+</tspan></text>
<text x="233.20" y="310.4" font-size="8.8" font-weight="bold" text-anchor="middle" fill="#111">0</text>
<text x="245.11" y="310.4" font-size="8.8" font-weight="bold" text-anchor="middle" fill="#111">3</text>
<text x="253.06" y="310.4" font-size="8.8" font-weight="bold" text-anchor="middle" fill="#111">5</text>
<text x="261.00" y="310.4" font-size="8.8" font-weight="bold" text-anchor="middle" fill="#111">7</text>
<text x="272.91" y="310.4" font-size="8.8" font-weight="bold" text-anchor="middle" fill="#111">10</text>
<text x="288.80" y="310.4" font-size="8.8" font-weight="bold" text-anchor="middle" fill="#111">14</text>
<text transform="translate(130.9,169.3) rotate(-90)" font-size="11.6" font-weight="bold" text-anchor="middle" fill="#111">Frequency (%)</text>
<text class="n" x="218.9" y="331.8" font-size="13.6" text-anchor="middle" fill="#111">Days</text>
<text x="320.6" y="86.3" font-size="11.7" font-weight="bold" fill="#111">TPO+TNF-α</text>
<text x="485.6" y="86.2" font-size="11.1" font-weight="bold" fill="#111">TPO</text>
<text x="312.1" y="141.7" font-size="11.2" font-weight="bold" fill="#111">Day 3</text>
<text x="312.1" y="222.6" font-size="11.2" font-weight="bold" fill="#111">Day 5</text>
<text x="312.1" y="303.4" font-size="11.2" font-weight="bold" fill="#111">Day 7</text>
<line x1="408.6" y1="73.1" x2="394.2" y2="92.6" stroke="#111" stroke-width="1"/>
<path d="M391.3,96.6 L391.9,90.8 L397.6,94.8Z" fill="#111"/>
<line x1="459.4" y1="72.8" x2="474.2" y2="92.8" stroke="#111" stroke-width="1"/>
<path d="M477,96.6 L470.9,94.6 L476.6,90.6Z" fill="#111"/>
<defs>
<filter id="b03" x="-30%" y="-30%" width="160%" height="160%"><feGaussianBlur stdDeviation="0.3"/></filter>
<filter id="b04" x="-30%" y="-30%" width="160%" height="160%"><feGaussianBlur stdDeviation="0.45"/></filter>
<filter id="b06" x="-30%" y="-30%" width="160%" height="160%"><feGaussianBlur stdDeviation="0.6"/></filter>
<filter id="b1" x="-30%" y="-30%" width="160%" height="160%"><feGaussianBlur stdDeviation="1"/></filter>
<filter id="b15" x="-30%" y="-30%" width="160%" height="160%"><feGaussianBlur stdDeviation="1.5"/></filter>
<filter id="tb" x="-30%" y="-30%" width="160%" height="160%"><feGaussianBlur in="SourceGraphic" stdDeviation="0.45" result="bl"/><feTurbulence type="fractalNoise" baseFrequency="0.24" numOctaves="2" seed="7" result="n"/><feColorMatrix in="n" type="matrix" values="0.33 0.33 0.33 0 0  0.33 0.33 0.33 0 0  0.33 0.33 0.33 0 0  0 0 0 0 1" result="g"/><feComposite in="bl" in2="g" operator="arithmetic" k1="1.8" k2="0.1" k3="0" k4="0" result="m"/><feComposite in="m" in2="bl" operator="in"/></filter>
<filter id="tb6" x="-30%" y="-30%" width="160%" height="160%"><feGaussianBlur in="SourceGraphic" stdDeviation="0.6" result="bl"/><feTurbulence type="fractalNoise" baseFrequency="0.24" numOctaves="2" seed="3" result="n"/><feColorMatrix in="n" type="matrix" values="0.33 0.33 0.33 0 0  0.33 0.33 0.33 0 0  0.33 0.33 0.33 0 0  0 0 0 0 1" result="g"/><feComposite in="bl" in2="g" operator="arithmetic" k1="1.8" k2="0.1" k3="0" k4="0" result="m"/><feComposite in="m" in2="bl" operator="in"/></filter>
<filter id="spk" x="-30%" y="-30%" width="160%" height="160%"><feTurbulence type="turbulence" baseFrequency="0.35" numOctaves="2" seed="5" result="t"/><feDisplacementMap in="SourceGraphic" in2="t" scale="9" xChannelSelector="R" yChannelSelector="G"/><feGaussianBlur stdDeviation="0.7"/></filter>
<filter id="b2" x="-30%" y="-30%" width="160%" height="160%"><feGaussianBlur stdDeviation="2"/></filter>
<radialGradient id="gN" cx="50%" cy="50%" r="50%"><stop offset="0" stop-color="#5f36d8"/><stop offset="0.55" stop-color="#5530cc"/><stop offset="0.85" stop-color="#5a36d0"/><stop offset="1" stop-color="#7a62dc"/></radialGradient>
<radialGradient id="gB" cx="50%" cy="50%" r="50%"><stop offset="0" stop-color="#7a42e6"/><stop offset="0.45" stop-color="#6636e0"/><stop offset="0.82" stop-color="#532ed8"/><stop offset="0.94" stop-color="#6048dc"/><stop offset="1" stop-color="#9482e8"/></radialGradient>
<radialGradient id="gP" cx="50%" cy="50%" r="50%" fy="62%"><stop offset="0" stop-color="#c890e6"/><stop offset="0.4" stop-color="#9466dc"/><stop offset="0.75" stop-color="#5e38d4"/><stop offset="0.92" stop-color="#5a3ad6"/><stop offset="1" stop-color="#8470e0"/></radialGradient>
<radialGradient id="gD" cx="50%" cy="50%" r="50%"><stop offset="0" stop-color="#5a36d0"/><stop offset="0.55" stop-color="#5130c8"/><stop offset="0.85" stop-color="#4c2cc2"/><stop offset="1" stop-color="#6a58d0"/></radialGradient>
<radialGradient id="gM" cx="50%" cy="50%" r="50%"><stop offset="0" stop-color="#9860da"/><stop offset="0.6" stop-color="#8a52d4"/><stop offset="0.88" stop-color="#7e50cc"/><stop offset="1" stop-color="#9c84da"/></radialGradient>
<radialGradient id="gV" cx="50%" cy="50%" r="50%"><stop offset="0" stop-color="#7c44e0"/><stop offset="0.75" stop-color="#6c38d8"/><stop offset="1" stop-color="#8a6ad8"/></radialGradient>
<radialGradient id="gQ" cx="50%" cy="50%" r="50%"><stop offset="0" stop-color="#9054d2"/><stop offset="0.6" stop-color="#7e44cc"/><stop offset="0.9" stop-color="#7a4ccc"/><stop offset="1" stop-color="#9078d4"/></radialGradient>
<radialGradient id="gR" cx="50%" cy="50%" r="50%"><stop offset="0" stop-color="#6e3ec8"/><stop offset="0.7" stop-color="#6236c0"/><stop offset="0.9" stop-color="#6a40c4"/><stop offset="1" stop-color="#8468cc"/></radialGradient>
<radialGradient id="gK" cx="50%" cy="50%" r="50%"><stop offset="0" stop-color="#6a3ac6"/><stop offset="0.6" stop-color="#7444cc"/><stop offset="0.9" stop-color="#7e52cc"/><stop offset="1" stop-color="#9278d4"/></radialGradient>
<radialGradient id="gL" cx="50%" cy="50%" r="50%"><stop offset="0" stop-color="#8e5cd0"/><stop offset="0.7" stop-color="#7c4ccc"/><stop offset="1" stop-color="#9478d4"/></radialGradient>
<clipPath id="c0"><rect x="391.3" y="2.1" width="80.3" height="70.4"/></clipPath>
<clipPath id="c1"><rect x="348.9" y="99.5" width="80.0" height="72.1"/></clipPath>
<clipPath id="c2"><rect x="438.8" y="99.5" width="79.2" height="72.3"/></clipPath>
<clipPath id="c3"><rect x="349.0" y="182.4" width="79.9" height="69.6"/></clipPath>
<clipPath id="c4"><rect x="438.8" y="181.8" width="79.2" height="70.2"/></clipPath>
<clipPath id="c5"><rect x="349.7" y="262.0" width="79.2" height="73.5"/></clipPath>
<clipPath id="c6"><rect x="438.8" y="261.9" width="81.2" height="74.1"/></clipPath>
</defs>
<g clip-path="url(#c0)">
<rect x="391.3" y="2.1" width="80.3" height="70.4" fill="#f4f2f2"/><ellipse cx="405.6" cy="41.0" rx="10.3" ry="10.5" fill="#f6f5fc" opacity="0.9" filter="url(#b06)"/><ellipse cx="412.0" cy="52.0" rx="10.6" ry="10.200000000000001" fill="#f6f5fc" transform="rotate(30 412.0 52.0)" opacity="0.9" filter="url(#b06)"/><ellipse cx="440.3" cy="32.0" rx="10.5" ry="11.200000000000001" fill="#f6f5fc" opacity="0.9" filter="url(#b06)"/><ellipse cx="457.1" cy="17.9" rx="10.1" ry="10.6" fill="#f6f5fc" transform="rotate(20 457.1 17.9)" opacity="0.9" filter="url(#b06)"/><ellipse cx="438.9" cy="55.8" rx="9.6" ry="10.700000000000001" fill="#f6f5fc" opacity="0.9" filter="url(#b06)"/><ellipse cx="453.1" cy="58.0" rx="10.1" ry="10.5" fill="#f6f5fc" transform="rotate(-20 453.1 58.0)" opacity="0.9" filter="url(#b06)"/><ellipse cx="405.6" cy="41.0" rx="8.700000000000001" ry="8.9" fill="#b4a8ec" opacity="0.95" filter="url(#b04)"/><ellipse cx="412.0" cy="52.0" rx="9.0" ry="8.6" fill="#b4a8ec" transform="rotate(30 412.0 52.0)" opacity="0.95" filter="url(#b04)"/><ellipse cx="440.3" cy="32.0" rx="8.9" ry="9.600000000000001" fill="#b4a8ec" opacity="0.95" filter="url(#b04)"/><ellipse cx="457.1" cy="17.9" rx="8.5" ry="9.0" fill="#b4a8ec" transform="rotate(20 457.1 17.9)" opacity="0.95" filter="url(#b04)"/><ellipse cx="438.9" cy="55.8" rx="8.0" ry="9.100000000000001" fill="#b4a8ec" opacity="0.95" filter="url(#b04)"/><ellipse cx="453.1" cy="58.0" rx="8.5" ry="8.9" fill="#b4a8ec" transform="rotate(-20 453.1 58.0)" opacity="0.95" filter="url(#b04)"/>
<path d="M391,2 L400,2 Q397,5.5 391,7.8Z" fill="#5434d0" filter="url(#b04)"/>
<ellipse cx="397.5" cy="10.7" rx="1" ry="1" fill="#8090e0" opacity="0.7"/>
<ellipse cx="405.6" cy="41.0" rx="7.9" ry="8.1" fill="url(#gB)" filter="url(#tb)"/>
<ellipse cx="412.0" cy="52.0" rx="8.2" ry="7.8" fill="url(#gB)" transform="rotate(30 412.0 52.0)" filter="url(#tb)"/>
<ellipse cx="440.3" cy="32.0" rx="8.1" ry="8.8" fill="url(#gP)" filter="url(#tb)"/>
<ellipse cx="457.1" cy="17.9" rx="7.7" ry="8.2" fill="url(#gB)" transform="rotate(20 457.1 17.9)" filter="url(#tb)"/>
<ellipse cx="438.9" cy="55.8" rx="7.2" ry="8.3" fill="url(#gB)" filter="url(#tb)"/>
<ellipse cx="453.1" cy="58.0" rx="7.7" ry="8.1" fill="url(#gB)" transform="rotate(-20 453.1 58.0)" filter="url(#tb)"/>
</g>
<g clip-path="url(#c1)">
<rect x="348.9" y="99.5" width="80.0" height="72.1" fill="#dfe6dc"/><ellipse cx="376.0" cy="133.2" rx="8.44" ry="10.64" fill="#b0a8e0" opacity="0.95" filter="url(#b04)"/><ellipse cx="377.3" cy="154.3" rx="10.040000000000001" ry="11.24" fill="#b0a8e0" opacity="0.95" filter="url(#b04)"/><ellipse cx="410.6" cy="120.7" rx="8.8" ry="9.200000000000001" fill="#ccc6ee" opacity="0.95" filter="url(#b04)"/><ellipse cx="409.2" cy="140.4" rx="11.600000000000001" ry="11.0" fill="#b8b4e8" opacity="0.95" filter="url(#b04)"/><ellipse cx="402.0" cy="161.8" rx="8.98" ry="9.48" fill="#b0a8e0" opacity="0.95" filter="url(#b04)"/><ellipse cx="425.5" cy="158.0" rx="5.68" ry="11.48" fill="#b0a8e0" opacity="0.95" filter="url(#b04)"/>
<ellipse cx="360" cy="150" rx="12" ry="20" fill="#e4e8e0" opacity="0.8" filter="url(#b2)"/>
<ellipse cx="386.5" cy="101.5" rx="4" ry="2.5" fill="#a8b0e0" filter="url(#b06)"/>
<ellipse cx="379" cy="166" rx="14" ry="8" fill="#b0b8e2" filter="url(#b1)"/>
<ellipse cx="416" cy="156" rx="8" ry="18" fill="#aab4e0" filter="url(#b1)"/>
<ellipse cx="385" cy="142" rx="5" ry="8" fill="#b4aedc" filter="url(#b1)"/>
<path d="M353,122 Q350,114 354,108 Q357,101 364,102.5 Q370,103 372.5,108 Q377,113 375,121 Q373,128 365,127.5 Q357,128 353,122Z" fill="#8e8ade" filter="url(#spk)"/>
<path d="M354,121 Q352,114 355,109 Q358,103 364,104 Q369,104 371.5,108 Q375.5,113 374,120 Q372,126.5 365,126.5 Q358,127 354,121Z" fill="#7470d6" opacity="0.8" filter="url(#b06)"/>
<path d="M357,116 Q357,108 364,106 Q371,105 374,112 Q376,120 372,125 Q367,129 361,126 Q356,122 357,116Z" fill="url(#gD)" filter="url(#tb)"/>
<ellipse cx="365.5" cy="113" rx="1.2" ry="2.2" fill="#a090e0" transform="rotate(35 365.5 113)" opacity="0.8" filter="url(#b04)"/>
<ellipse cx="376.0" cy="133.2" rx="7.8" ry="10" fill="url(#gD)" filter="url(#tb)"/>
<ellipse cx="381.5" cy="135" rx="1.5" ry="1.5" fill="#d0a8e0" opacity="0.8" filter="url(#b04)"/>
<ellipse cx="377.3" cy="154.3" rx="9.4" ry="10.6" fill="url(#gD)" filter="url(#tb)"/>
<ellipse cx="382" cy="162" rx="4" ry="3" fill="#9070c8" opacity="0.7" filter="url(#b1)"/>
<ellipse cx="410.6" cy="120.7" rx="8" ry="8.4" fill="url(#gN)" filter="url(#tb)"/>
<ellipse cx="411" cy="123" rx="3" ry="3" fill="#8458d0" opacity="0.7" filter="url(#b1)"/>
<ellipse cx="409.2" cy="140.4" rx="10.8" ry="10.2" fill="url(#gD)" filter="url(#tb)"/>
<ellipse cx="402.0" cy="161.8" rx="8.5" ry="9" fill="url(#gR)" filter="url(#tb)"/>
<ellipse cx="425.5" cy="158.0" rx="5.2" ry="11" fill="url(#gD)" filter="url(#tb)"/>
<ellipse cx="426" cy="153" rx="1" ry="1" fill="#e0a8e0" opacity="0.9"/>
<ellipse cx="371" cy="171.5" rx="6" ry="2.5" fill="#4a2cb8" filter="url(#b04)"/>
<ellipse cx="410" cy="171.5" rx="10" ry="1.8" fill="#5a40c0" opacity="0.9" filter="url(#b04)"/>
</g>
<g clip-path="url(#c2)">
<rect x="438.8" y="99.5" width="79.2" height="72.3" fill="#eef1ed"/><ellipse cx="463.8" cy="103.4" rx="11.299999999999999" ry="11.9" fill="#f6f5fc" opacity="0.9" filter="url(#b06)"/><ellipse cx="519.5" cy="112.5" rx="10.6" ry="15.1" fill="#f6f5fc" opacity="0.9" filter="url(#b06)"/><ellipse cx="466.8" cy="150.0" rx="11.6" ry="11.9" fill="#f6f5fc" opacity="0.9" filter="url(#b06)"/><ellipse cx="451.4" cy="160.1" rx="11.700000000000001" ry="11.4" fill="#f6f5fc" opacity="0.9" filter="url(#b06)"/><ellipse cx="506.5" cy="168.5" rx="8.0" ry="5.5" fill="#f6f5fc" opacity="0.9" filter="url(#b06)"/><ellipse cx="515.5" cy="166.0" rx="5.5" ry="8.5" fill="#f6f5fc" transform="rotate(20 515.5 166.0)" opacity="0.9" filter="url(#b06)"/><ellipse cx="463.8" cy="103.4" rx="9.66" ry="10.260000000000002" fill="#dcd8f4" opacity="0.95" filter="url(#b04)"/><ellipse cx="519.5" cy="112.5" rx="9.0" ry="13.5" fill="#d0c8f0" opacity="0.95" filter="url(#b04)"/><ellipse cx="466.8" cy="150.0" rx="10.0" ry="10.3" fill="#d8d0f4" opacity="0.95" filter="url(#b04)"/><ellipse cx="451.4" cy="160.1" rx="10.100000000000001" ry="9.8" fill="#d8d0f4" opacity="0.95" filter="url(#b04)"/><ellipse cx="506.5" cy="168.5" rx="6.48" ry="3.98" fill="#d8d0f4" opacity="0.95" filter="url(#b04)"/><ellipse cx="515.5" cy="166.0" rx="3.98" ry="6.98" fill="#d8d0f4" transform="rotate(20 515.5 166.0)" opacity="0.95" filter="url(#b04)"/>
<ellipse cx="463.8" cy="103.4" rx="8.7" ry="9.3" fill="url(#gB)" filter="url(#tb)"/>
<ellipse cx="519.5" cy="112.5" rx="8.2" ry="12.7" fill="url(#gV)" filter="url(#tb)"/>
<path d="M490.5,139 Q490.5,128.5 500,127.8 Q505,127.2 509.3,126.8 Q509,133 508.8,138.5 Q509,148 500,149.5 Q491,149.5 490.5,139Z" fill="#dcd6f6" filter="url(#b06)"/>
<path d="M491.5,139 Q491.5,129.5 500,128.8 Q504.5,128.3 508.2,128 Q508,133 507.8,138.5 Q508,147 500,148.5 Q492,148.5 491.5,139Z" fill="#b2a4ea" filter="url(#b04)"/>
<ellipse cx="499.1" cy="139.9" rx="7.8" ry="8.0" fill="url(#gB)" filter="url(#tb)"/>
<ellipse cx="466.8" cy="150.0" rx="9.2" ry="9.5" fill="url(#gB)" filter="url(#tb)"/>
<ellipse cx="451.4" cy="160.1" rx="9.3" ry="9.0" fill="url(#gB)" filter="url(#tb)"/>
<ellipse cx="506.5" cy="168.5" rx="6" ry="3.5" fill="url(#gB)" filter="url(#tb)"/>
<ellipse cx="515.5" cy="166.0" rx="3.5" ry="6.5" fill="url(#gB)" transform="rotate(20 515.5 166.0)" filter="url(#tb)"/>
</g>
<g clip-path="url(#c3)">
<rect x="349.0" y="182.4" width="79.9" height="69.6" fill="#dee5da"/><ellipse cx="384.1" cy="200.5" rx="12.440000000000001" ry="13.040000000000001" fill="#98a4dc" transform="rotate(-15 384.1 200.5)" opacity="0.95" filter="url(#b04)"/>
<ellipse cx="356" cy="196" rx="4" ry="7" fill="#cdd4c8" opacity="0.8" filter="url(#b1)"/>
<path d="M370,200 Q372,186 386,186 Q398,187 404,194 Q412,200 415,212 Q418,228 416,240 Q414,250 400,250 Q385,250 378,246 Q370,236 372,222 Q368,212 370,200Z" fill="#a9b0d4" filter="url(#b15)"/>
<ellipse cx="411" cy="232" rx="6" ry="14" fill="#b8bcd4" opacity="0.9" filter="url(#b2)"/>
<ellipse cx="413" cy="189" rx="15" ry="3.5" fill="#cdc6dc" transform="rotate(-12 413 189)" opacity="0.9" filter="url(#b1)"/>
<ellipse cx="378" cy="206" rx="12" ry="13" fill="#a6b2dc" filter="url(#b1)"/>
<path d="M377,226 Q380,216 392,215 Q402,215 404,222 Q404,228 396,228 Q385,229 377,226Z" fill="#b2a2d4" filter="url(#b06)"/>
<ellipse cx="384.1" cy="200.5" rx="11.8" ry="12.4" fill="url(#gQ)" transform="rotate(-15 384.1 200.5)" filter="url(#tb)"/>
<ellipse cx="385.3" cy="195.8" rx="1.3" ry="1.3" fill="#f2e6f8" opacity="0.95" filter="url(#b03)"/>
<ellipse cx="375.7" cy="197.5" rx="1.0" ry="1.0" fill="#f2e6f8" opacity="0.95" filter="url(#b03)"/>
<ellipse cx="382" cy="203" rx="0.7" ry="0.7" fill="#f2e6f8" opacity="0.95" filter="url(#b03)"/>
<ellipse cx="388" cy="203" rx="0.8" ry="0.8" fill="#f2e6f8" opacity="0.95" filter="url(#b03)"/>
<ellipse cx="386.5" cy="206" rx="0.6" ry="0.6" fill="#f2e6f8" opacity="0.95" filter="url(#b03)"/>
<ellipse cx="415" cy="184" rx="0.9" ry="0.9" fill="#303050"/>
<path d="M376,234 Q377,225 389,225 Q401,224 403,232 Q405,241 396,244 Q386,247 379,243 Q375,240 376,234Z" fill="url(#gR)" filter="url(#tb)"/>
<path d="M353,226 Q352,216 362,216 Q371,215 374,222 Q377,228 376,236 Q378,244 371,245 Q365,246 362,242 Q354,239 353,226Z" fill="#8c84d8" filter="url(#b06)"/>
<path d="M353.5,226 Q353,217 362,217 Q370.5,216 373.5,222 Q376.5,228 375.5,236 Q377,243 371,244 Q365,245 362,241 Q354.5,238 353.5,226Z" fill="url(#gD)" filter="url(#tb)"/>
<ellipse cx="370" cy="239" rx="4" ry="4" fill="#8050c8" opacity="0.5" filter="url(#b1)"/>
<ellipse cx="349.8" cy="229" rx="0.7" ry="1.2" fill="#303040"/>
</g>
<g clip-path="url(#c4)">
<rect x="438.8" y="181.8" width="79.2" height="70.2" fill="#e6eae8"/><ellipse cx="456.1" cy="206.3" rx="11.100000000000001" ry="11.8" fill="#f6f5fc" opacity="0.9" filter="url(#b06)"/><ellipse cx="456.1" cy="206.3" rx="9.520000000000001" ry="10.22" fill="#c8c0ec" opacity="0.95" filter="url(#b04)"/>
<ellipse cx="456.1" cy="206.3" rx="8.8" ry="9.5" fill="url(#gR)" filter="url(#tb)"/>
<ellipse cx="460.5" cy="207" rx="3" ry="7" fill="#2c1688" transform="rotate(10 460.5 207)" opacity="0.5" filter="url(#b1)"/>
<ellipse cx="451" cy="204" rx="2.5" ry="4" fill="#9a70d8" transform="rotate(10 451 204)" opacity="0.45" filter="url(#b1)"/>
<ellipse cx="498" cy="238.5" rx="7" ry="5.5" fill="#a8b0e0" filter="url(#b06)"/>
<path d="M487,214 Q490,206.5 500,206.5 Q510,206.5 512.5,216 Q513.5,226 507,232 Q500,235 494,231 Q488,224 487,214Z" fill="#b6a8e2" stroke="#e6e2f6" stroke-width="1.4" filter="url(#b04)"/>
<path d="M494,218 Q496,210 504,210 Q511,211 512,218.5 Q513,227 507,231 Q500,234 496,230 Q493.5,225 494,218Z" fill="url(#gL)" filter="url(#tb)"/>
<path d="M477,222 Q477,216 483,216.5 Q491,218 497,225 Q502,231 500,237 Q497,243 490,242 Q482,240 478,233 Q476,228 477,222Z" fill="none" stroke="#eeecf8" stroke-width="2" filter="url(#b06)"/>
<path d="M477,222 Q477,216 483,216.5 Q491,218 497,225 Q502,231 500,237 Q497,243 490,242 Q482,240 478,233 Q476,228 477,222Z" fill="url(#gD)" filter="url(#tb)"/>
<ellipse cx="471.8" cy="193.1" rx="0.8" ry="0.8" fill="#404050" opacity="0.6"/>
</g>
<g clip-path="url(#c5)">
<rect x="349.7" y="262.0" width="79.2" height="73.5" fill="#e4e9e4"/>
<ellipse cx="389" cy="305" rx="32" ry="19" fill="#c0c8ec" opacity="0.9" filter="url(#spk)"/>
<ellipse cx="390" cy="304" rx="26" ry="15" fill="#aeb8e8" opacity="0.9" filter="url(#spk)"/>
<ellipse cx="403" cy="289" rx="11" ry="10" fill="#bcc4ea" opacity="0.8" filter="url(#spk)"/>
<ellipse cx="390" cy="304" rx="20" ry="12" fill="#a4b0e6" opacity="0.9" filter="url(#b15)"/>
<ellipse cx="389" cy="296" rx="9" ry="5" fill="#a8b2e6" opacity="0.9" filter="url(#b1)"/>
<ellipse cx="358.1" cy="277.3" rx="4" ry="4.5" fill="#b0aedc" filter="url(#b06)"/>
<path d="M386,281 Q385,271 395,270.5 Q405,270.5 405.5,279 Q406,287 400,292 Q396,294.5 392,291 Q386.5,287 386,281Z" fill="none" stroke="#e6e8f8" stroke-width="1.5" opacity="0.8" filter="url(#b06)"/>
<path d="M386,281 Q385,271 395,270.5 Q405,270.5 405.5,279 Q406,287 400,292 Q396,294.5 392,291 Q386.5,287 386,281Z" fill="url(#gB)" filter="url(#tb)"/>
<path d="M371,296 Q372,291 378,291 Q385,291 385,296 Q385,299 382,300 Q387,302 386,308 Q385,314 379,313 Q375,313 373,310 Q368,310 368,305 Q368,302 372,301 Q370,299 371,296Z" fill="none" stroke="#e0e2f6" stroke-width="1.2" opacity="0.7" filter="url(#b06)"/>
<path d="M371,296 Q372,291 378,291 Q385,291 385,296 Q385,299 382,300 Q387,302 386,308 Q385,314 379,313 Q375,313 373,310 Q368,310 368,305 Q368,302 372,301 Q370,299 371,296Z" fill="url(#gB)" filter="url(#tb)"/>
<ellipse cx="372" cy="301" rx="1.2" ry="1" fill="#f0f0f8"/>
<path d="M389,302 Q390,297 396,298 Q398,300 400,299 Q407,296 410,302 Q412,309 407,314 Q402,318 396,316 Q390,315 389,310 Q387,306 389,302Z" fill="none" stroke="#e0e2f6" stroke-width="1.2" opacity="0.7" filter="url(#b06)"/>
<path d="M389,302 Q390,297 396,298 Q398,300 400,299 Q407,296 410,302 Q412,309 407,314 Q402,318 396,316 Q390,315 389,310 Q387,306 389,302Z" fill="url(#gB)" filter="url(#tb)"/>
</g>
<g clip-path="url(#c6)">
<rect x="438.8" y="261.9" width="81.2" height="74.1" fill="#f3f3e8"/>
<ellipse cx="484" cy="308" rx="27" ry="27" fill="#a2aeea" filter="url(#b06)"/>
<ellipse cx="484" cy="308" rx="25" ry="25" fill="#a4b0ea" filter="url(#b1)"/>
<path d="M466,306 Q467,297 476,296 Q478,291 485,292 Q492,293 494,298 Q503,298 506,305 Q508,314 505,321 Q502,329 492,331 Q482,333 474,328 Q466,322 466,306Z" fill="url(#gK)" filter="url(#tb6)"/>
<ellipse cx="484" cy="300" rx="5" ry="4" fill="#5a30c0" opacity="0.5" filter="url(#b1)"/>
<ellipse cx="492" cy="318" rx="6" ry="5" fill="#5a30c0" opacity="0.4" filter="url(#b1)"/>
<ellipse cx="478.5" cy="322" rx="0.9" ry="0.9" fill="#f0e8f8" opacity="0.9"/>
<ellipse cx="442.5" cy="266" rx="5" ry="5" fill="#8c84dc" filter="url(#b06)"/>
<ellipse cx="442" cy="263.5" rx="4" ry="2.5" fill="#6a58d4" filter="url(#b04)"/>
<ellipse cx="451" cy="282.3" rx="12" ry="13.6" fill="#aaa6e2" filter="url(#b06)"/>
<ellipse cx="450.8" cy="284.4" rx="10.4" ry="10.1" fill="url(#gM)" filter="url(#tb6)"/>
<ellipse cx="474" cy="279.4" rx="12.2" ry="10.2" fill="#aaa6e2" transform="rotate(-35 474 279.4)" filter="url(#b06)"/>
<ellipse cx="474" cy="279.6" rx="11.0" ry="9.0" fill="url(#gM)" transform="rotate(-35 474 279.6)" filter="url(#tb6)"/>
<ellipse cx="496.6" cy="271.9" rx="12.2" ry="9" fill="#b0a8e4" filter="url(#b06)"/>
<ellipse cx="494" cy="272" rx="10" ry="8" fill="url(#gM)" filter="url(#tb6)"/>
<ellipse cx="515.5" cy="308.5" rx="4.8" ry="7.8" fill="#c0b8ec" filter="url(#b06)"/>
<ellipse cx="515.5" cy="308.5" rx="4.0" ry="7.0" fill="url(#gM)" filter="url(#b04)"/>
</g>
</svg>
</body></html>
